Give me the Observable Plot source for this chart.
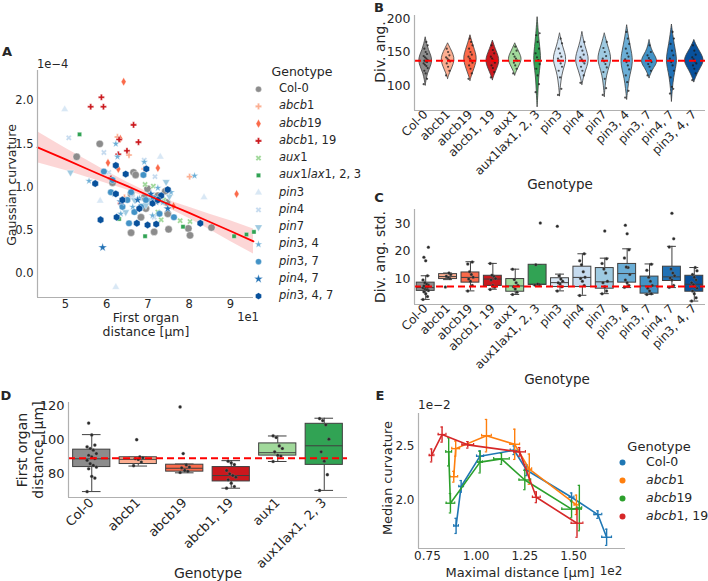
<!DOCTYPE html>
<html><head><meta charset="utf-8">
<script src="https://cdn.jsdelivr.net/npm/d3@7"></script>
<script src="https://cdn.jsdelivr.net/npm/@observablehq/plot@0.6"></script>
<style>
body{margin:0;background:#fff;font-family:"DejaVu Sans",sans-serif;color:#262626}
#fig{position:relative;width:708px;height:581px;overflow:hidden;background:#fff}
.p{position:absolute;line-height:0}
.p svg{display:block}
.t{position:absolute;white-space:nowrap;line-height:1.15;color:#262626}
</style></head><body><div id="fig"></div><script>
// ---------------- data ----------------
const genotypes = ["Col-0","abcb1","abcb19","abcb1, 19","aux1","aux1lax1, 2, 3","pin3","pin4","pin7","pin3, 4","pin3, 7","pin4, 7","pin3, 4, 7"];
const colors = ["#8c8c8c","#fcae91","#fb6a4a","#cb181d","#a1d99b","#31a354","#d9e8f5","#c6dbef","#9ecae1","#6baed6","#4292c6","#2171b5","#08519c"];

// Panel A: first organ distance (x 1e1 µm) vs Gaussian curvature (x 1e-4)
const aCol0 = [[5.83,1.50],[5.27,1.35],[6.14,1.05],[6.65,1.17],[6.59,0.92],[6.91,0.88],[7.14,0.85],[7.42,0.95],[7.46,0.82],[7.48,0.69],[7.50,0.51],[7.15,0.48],[6.59,0.47],[6.83,0.65],[6.95,0.75],[7.98,0.52],[8.02,0.44],[8.54,0.53],[7.24,0.90],[6.99,0.98],[6.70,1.14]];
const aAbcb1 = [[6.54,1.37],[8.01,1.12],[6.91,1.21],[6.26,1.58],[6.43,0.88]];
const aAbcb19 = [[6.41,2.22],[6.03,1.28],[6.28,1.21],[7.24,1.22],[9.15,0.92],[7.62,0.78],[6.33,1.56]];
const aAbcb1_19 = [[5.61,1.93],[5.87,2.04],[5.92,1.93],[6.65,1.72],[6.77,1.52],[6.30,1.55],[6.28,1.38],[6.49,1.42],[6.34,0.81],[6.10,1.10]];
const aAux1 = [[6.93,1.03],[7.13,1.01],[7.32,0.62],[7.78,0.61],[8.02,0.60],[7.24,0.71],[7.38,0.85]];
const aAux1lax = [[5.34,1.61],[6.30,0.63],[6.93,0.43],[7.85,0.54],[9.09,0.43],[9.39,0.45],[9.57,0.48]];
const aPin3 = [[4.98,1.90],[5.84,0.84],[8.36,0.88],[6.22,-0.16],[7.30,1.35]];
const aPin4 = [[5.08,1.57],[5.93,1.40],[6.91,1.31],[7.17,1.12],[6.63,0.88],[7.15,0.65],[6.05,1.17]];
const aPin7 = [[5.12,1.17],[7.44,1.06],[6.67,0.85],[6.95,0.79],[6.46,0.71],[7.52,0.89]];
const aPin3_4 = [[5.57,1.07],[6.22,1.50],[6.26,1.35],[6.91,1.29],[8.13,1.13],[7.36,0.82],[6.18,0.92],[7.03,0.85],[6.63,0.77],[7.56,0.94],[6.34,0.69],[7.11,0.67],[6.79,0.87],[7.24,0.99]];
const aPin3_7 = [[5.93,1.18],[6.89,1.14],[6.10,0.94],[6.59,0.94],[6.50,0.85],[6.67,0.71],[6.95,0.85],[7.14,0.87],[6.38,0.77],[6.54,0.58],[7.28,0.69],[7.63,0.65],[6.14,1.08],[6.83,0.77]];
const aPin4_7 = [[5.90,0.30],[7.19,0.83],[6.75,0.85],[6.34,0.83],[7.48,0.75],[7.07,0.92]];
const aPin3_4_7 = [[5.72,1.04],[6.22,1.25],[6.46,1.15],[6.96,1.21],[6.22,0.92],[6.38,0.85],[5.85,0.62],[6.24,0.65],[6.73,0.58],[6.99,0.56],[7.20,0.57],[6.79,0.75],[7.32,0.90],[7.11,0.81],[7.48,0.97],[8.27,0.58],[7.24,0.85]];
// regression fit with confidence band
const regX = [4.32,5.0,5.5,6.0,6.5,7.0,7.5,8.0,8.5,9.0,9.56];
const regFit = [1.46,1.32,1.215,1.11,1.01,0.905,0.80,0.70,0.595,0.49,0.37];
const regLo = [1.28,1.19,1.115,1.04,0.965,0.87,0.755,0.635,0.505,0.37,0.225];
const regHi = [1.64,1.45,1.315,1.18,1.055,0.94,0.845,0.765,0.685,0.61,0.515];

// Panel B: violin profiles [Div. ang., half-width]
const vCol0 = [[100,0],[108,0.04],[118,0.1],[127,0.22],[136,0.31],[145,0.25],[153,0.14],[162,0.06],[172,0]];
const vAbcb1 = [[110,0],[118,0.08],[127,0.2],[137,0.31],[146,0.25],[154,0.13],[163,0]];
const vAbcb19 = [[107,0],[115,0.07],[124,0.17],[134,0.27],[143,0.29],[153,0.2],[164,0.09],[175,0]];
const vAbcb1_19 = [[108,0],[116,0.08],[125,0.2],[135,0.31],[144,0.26],[154,0.13],[167,0]];
const vAux1 = [[115,0],[122,0.08],[130,0.2],[138,0.31],[146,0.24],[154,0.12],[163,0]];
const vAux1lax = [[68,0],[85,0.03],[100,0.05],[115,0.08],[128,0.13],[138,0.16],[150,0.14],[165,0.09],[180,0.05],[202,0]];
const vPin3 = [[84,0],[100,0.04],[115,0.1],[127,0.2],[138,0.3],[148,0.24],[160,0.12],[170,0.05],[178,0]];
const vPin4 = [[101,0],[112,0.07],[122,0.16],[133,0.28],[142,0.29],[152,0.2],[165,0.08],[180,0]];
const vPin7 = [[83,0],[100,0.04],[115,0.1],[128,0.22],[138,0.3],[148,0.26],[160,0.14],[170,0.06],[178,0]];
const vPin3_4 = [[79,0],[95,0.05],[110,0.11],[122,0.2],[135,0.27],[147,0.23],[160,0.15],[172,0.08],[190,0]];
const vPin3_7 = [[111,0],[118,0.08],[126,0.2],[134,0.37],[142,0.3],[150,0.15],[158,0.06],[168,0]];
const vPin4_7 = [[76,0],[95,0.04],[112,0.1],[125,0.18],[136,0.24],[148,0.2],[162,0.12],[175,0.06],[191,0]];
const vPin3_4_7 = [[105,0],[113,0.09],[122,0.22],[131,0.38],[138,0.44],[146,0.34],[155,0.18],[162,0.07],[168,0]];
// Panel B: individual divergence angles
const bCol0 = [102,110,118,122,126,129,131,133,135,136,137,138,140,142,144,147,150,155,160,165];
const bAbcb1 = [115,122,128,133,136,138,140,142,145,150,155];
const bAbcb19 = [110,118,125,130,134,137,140,143,146,150,155,160,165,170];
const bAbcb1_19 = [112,120,126,130,134,137,140,143,148,153,160];
const bAux1 = [118,125,130,134,137,140,143,147,152,158];
const bAux1lax = [90,102,115,125,132,138,142,148,155,165,175,178];
const bPin3 = [86,95,112,122,128,133,137,140,143,148,155,163,170];
const bPin4 = [104,115,122,128,133,136,139,142,146,152,158,165];
const bPin7 = [86,96,110,120,127,132,136,140,144,150,156,165];
const bPin3_4 = [82,92,105,115,124,130,135,139,143,148,155,162,170,180];
const bPin3_7 = [115,122,128,132,135,138,141,145,150,160];
const bPin4_7 = [88,95,98,112,122,130,135,140,145,152,162,170,180];
const bPin3_4_7 = [108,118,125,130,133,136,139,142,146,152,160];
const bRef = 137;

// Panel C: Div. ang. std. box statistics and points
const cLo  = [2.4,9.6,5.5,6.1,4.2,7.6,5.5,3.9,4.5,6.7,4.2,6.7,1.8];
const cQ1  = [5.5,9.8,8.5,7.3,5.2,7.7,6.9,6.9,6.3,8.5,4.5,9.1,5.2];
const cMed = [6.7,10.7,10.4,9.8,7.3,7.9,8.5,10.4,8.8,11.8,7.3,10.6,7.9];
const cQ3  = [8.5,11.6,12.2,11.0,9.8,15.0,10.1,14.3,13.8,15.3,10.7,14.3,11.0];
const cHi  = [11.0,12.0,16.1,15.5,13.4,15.0,11.6,19.0,17.4,20.8,15.3,21.7,14.0];
const cPts = [
  [2.4,3.5,4.5,5.2,5.6,6.0,6.3,6.6,6.8,7.0,7.3,7.6,8.0,8.5,9.5,11,16.5,17.7,21.4],
  [6.9,10.0,10.4,10.8,11.5,12.0],
  [5.5,7.5,9,9.8,10.5,11.5,12.5,15.3,16.0],
  [6.0,6.8,7.5,9.5,10,10.8,11.2,15.5],
  [4.2,5.0,6.2,7,7.5,8.5,9.6,13.4],
  [7.6,7.8,8.0,15.0,30.2],
  [5.5,7.0,8.0,8.5,9.0,9.8,11.0,29.0],
  [3.8,7.5,9,10,10.5,12.5,15,16.5,19],
  [4.5,5.5,7,8.5,9,12,13.5,15.5,17.2,27.3],
  [6.8,7.5,8.5,9.5,11.5,14,14.2,17.5,20.5,26.3,29.4],
  [4.2,4.5,5.5,6.5,7.5,9,10.5,13,15.2],
  [6.8,7.5,9.5,10.2,11,12,13.5,21.5,24.5,33.7],
  [1.8,3,4.5,5.5,6.5,7,7.8,8.5,9.5,10.5,11.5,12.8,14]
];
const cRef = 7.1;

// Panel D: first organ distance box statistics and points
const dGenotypes = genotypes.slice(0, 6);
const dLo  = [69.5,84.6,80.6,71.5,87.3,70.2];
const dQ1  = [84.0,85.8,81.3,75.5,90.8,85.3];
const dMed = [88.9,88.6,83.3,79.0,92.5,96.6];
const dQ3  = [94.3,89.8,85.4,84.0,98.0,109.6];
const dHi  = [103.2,89.8,85.8,87.8,102.4,112.9];
const dPts = [
  [69.5,77.5,78.5,83,84,85,86,88,89,90,91,92,94,95,96,97,103,110],
  [84.8,87,88.5,89,89.5,90,100.2],
  [80.8,81.5,82,83.5,84,85.3,92.0,119.6],
  [71.5,72.5,74.5,76.5,78,79,80,82,85.5,86.5,87.5],
  [87.3,90.5,91,93,95,96.5,101.5,102.5],
  [70.2,79.5,87.5,93,100.5,109,111.5,112.7]
];
const dRef = 89.2;

// Panel E: [maximal distance (1e2 µm), median curvature (1e-2), x err, y err]
const eGenotypes = ["Col-0","abcb1","abcb19","abcb1, 19"];
const eColors = ["#1f77b4","#ff7f0e","#2ca02c","#d62728"];
const eCol0 = [[0.897,1.765,0.012,0.07],[0.923,2.13,0.012,0.055],[1.02,2.41,0.018,0.05],[1.195,2.465,0.02,0.04],[1.26,2.28,0.012,0.05],[1.49,2.03,0.012,0.04],[1.625,1.87,0.02,0.035],[1.67,1.66,0.025,0.075]];
const eAbcb1 = [[0.885,2.22,0.02,0.05],[0.895,2.48,0.02,0.07],[1.053,2.60,0.025,0.15],[1.198,2.52,0.025,0.14],[1.273,2.29,0.012,0.14],[1.515,1.96,0.012,0.09]];
const eAbcb19 = [[0.859,2.45,0.015,0.13],[0.868,1.975,0.022,0.09],[1.02,2.355,0.012,0.1],[1.13,2.385,0.04,0.05],[1.25,2.19,0.03,0.09],[1.49,1.92,0.05,0.08],[1.53,1.93,0.012,0.21]];
const eAbcb1_19 = [[0.771,2.417,0.012,0.06],[0.825,2.61,0.02,0.07],[0.957,2.515,0.03,0.03],[1.223,2.45,0.03,0.04],[1.309,2.03,0.02,0.05],[1.518,1.79,0.03,0.13]];

// ---------------- helpers ----------------
const fig = document.getElementById("fig");
const ink = "#262626", spine = "#b0b0b0", edge = "#3f3f3f";
function place(node, left, top){ const w=document.createElement("div"); w.className="p"; w.style.left=left+"px"; w.style.top=top+"px"; w.appendChild(node); fig.appendChild(w); }
function T(html, x, y, o={}){
  const d=document.createElement("div"); d.className="t"; d.innerHTML=html;
  d.style.left=x+"px"; d.style.top=y+"px"; d.style.fontSize=(o.size||12)+"px";
  if(o.bold) d.style.fontWeight="bold";
  const tx = o.anchor==="start" ? "0" : o.anchor==="end" ? "-100%" : "-50%";
  d.style.transform=`translate(${tx},-50%)` + (o.rotate?` rotate(${o.rotate}deg)`:"");
  fig.appendChild(d);
}
const ital = s => s==="Col-0" ? s : s.replace(/([A-Za-z]+)/g,"<i>$1</i>");
const style = fs => ({fontFamily:'"DejaVu Sans", sans-serif', fontSize:fs+"px", color:ink, background:"none", overflow:"visible"});
function rotSym(base, deg){
  const a=deg*Math.PI/180, c=Math.cos(a), s=Math.sin(a);
  return {draw(ctx,size){ base.draw({moveTo:(x,y)=>ctx.moveTo(x*c-y*s,x*s+y*c), lineTo:(x,y)=>ctx.lineTo(x*c-y*s,x*s+y*c), closePath:()=>ctx.closePath()}, size); }};
}
const triDown = rotSym(d3.symbolTriangle, 180);
const xCross = rotSym(d3.symbolCross, 45);
const symbolsA = ["circle","cross","diamond","cross",xCross,"square","triangle",xCross,triDown,"star","circle","star","hexagon"];
const sizesA = [3.7,2.6,2.6,2.6,2.6,2.4,2.8,2.6,2.8,2.4,3.3,2.8,3.2];
const jit = k => (((k*5)%7) - 3) / 3;
const idx = genotypes.map((g,i)=>i);

// ---------------- Panel A ----------------
const aSets = [aCol0,aAbcb1,aAbcb19,aAbcb1_19,aAux1,aAux1lax,aPin3,aPin4,aPin7,aPin3_4,aPin3_7,aPin4_7,aPin3_4_7];
const regRows = regX.map((x,k)=>({x, fit:regFit[k], lo:regLo[k], hi:regHi[k]}));
const aX = [4.32, 9.56], aY = [-0.28, 2.35];
place(Plot.plot({
  width:258, height:300, marginLeft:37, marginRight:5, marginTop:30, marginBottom:43,
  style: style(11.5),
  x:{domain:aX}, y:{domain:aY},
  marks:[
    Plot.areaY(regRows,{x:"x", y1:"lo", y2:"hi", fill:"#f03030", fillOpacity:0.2}),
    ...genotypes.map((g,i)=>Plot.dot(aSets[i].map(([x,y])=>({x,y})),{x:"x", y:"y", symbol:symbolsA[i], r:sizesA[i], fill:colors[i], stroke:"white", strokeWidth:0.4})),
    Plot.lineY(regRows,{x:"x", y:"fit", stroke:"#ff0000", strokeWidth:1.8}),
    Plot.ruleX([aX[0]],{stroke:spine, strokeWidth:1.2}),
    Plot.ruleY([aY[0]],{stroke:spine, strokeWidth:1.2}),
    Plot.axisX({ticks:[5,6,7,8,9], tickFormat:"d", tickSize:0, tickPadding:2, label:null}),
    Plot.axisY({ticks:[0,0.5,1,1.5,2], tickFormat:".1f", tickSize:0, tickPadding:4, label:null})
  ]
}), 0, 40);
// legend A (one row per genotype, 17.25 px apart, first row on top)
const legA = genotypes.map((g,k)=>({g,k}));
place(Plot.plot({
  width:16, height:13*17.25, margin:0, style:style(11),
  x:{domain:[0,1], axis:null}, y:{domain:[12.5,-0.5], axis:null},
  marks: legA.map((d,i)=>Plot.dot([d],{x:()=>0.5, y:"k", symbol:symbolsA[i], r:Math.min(sizesA[i],3), fill:colors[i], stroke:"white", strokeWidth:0.3}))
}), 250, 89-17.25/2);
T("A",7,52,{size:13,bold:true});
T("1e−4",37,65,{size:11.5,anchor:"start"});
T("Gaussian curvature",12,185,{size:12.5,rotate:-90});
T("First organ",146,318,{size:12.5});
T("distance [µm]",146,332,{size:12.5});
T("1e1",248,318,{size:11.5});
T("Genotype",302,72,{size:12.5});
genotypes.forEach((g,k)=>T(ital(g),279,89+k*17.25,{size:11.5,anchor:"start"}));

// ---------------- Panel B ----------------
const vSets = [vCol0,vAbcb1,vAbcb19,vAbcb1_19,vAux1,vAux1lax,vPin3,vPin4,vPin7,vPin3_4,vPin3_7,vPin4_7,vPin3_4_7];
const bSets = [bCol0,bAbcb1,bAbcb19,bAbcb1_19,bAux1,bAux1lax,bPin3,bPin4,bPin7,bPin3_4,bPin3_7,bPin4_7,bPin3_4_7];
const bY = [62.7, 204.5];
const bPts = bSets.flatMap((vals,i)=>vals.map((v,k)=>({i,v,k})));
place(Plot.plot({
  width:348, height:185, marginLeft:54, marginRight:3, marginTop:15, marginBottom:75,
  style: style(12.5),
  x:{domain:[-0.5,12.5]}, y:{domain:bY},
  marks:[
    ...vSets.map((prof,i)=>Plot.areaX(prof.map(([y,w])=>({i,y,w})),{y:"y", x1:d=>d.i-d.w, x2:d=>d.i+d.w, fill:colors[i], stroke:edge, strokeWidth:0.8, curve:"basis"})),
    Plot.dot(bPts,{x:d=>d.i+jit(d.k)*0.09, y:"v", r:1.1, fill:"#1a1a1a", fillOpacity:0.75}),
    Plot.ruleY([bRef],{stroke:"#ff0000", strokeWidth:2, strokeDasharray:"7,4"}),
    Plot.ruleX([-0.5],{stroke:spine, strokeWidth:1.2}),
    Plot.ruleY([bY[0]],{stroke:spine, strokeWidth:1.2}),
    Plot.axisY({ticks:[100,150,200], tickSize:0, tickPadding:4, label:null}),
    Plot.axisX({ticks:idx, tickFormat:i=>genotypes[i], tickRotate:-45, tickSize:0, tickPadding:2, label:null, fontSize:12})
  ]
}), 360, 0);
T("B",379,8,{size:13,bold:true});
T("Div. ang.",380,52,{size:14,rotate:-90});
T("Genotype",560,185,{size:13.5});

// ---------------- Panel C ----------------
const cRows = idx.map(i=>({i, lo:cLo[i], q1:cQ1[i], med:cMed[i], q3:cQ3[i], hi:cHi[i]}));
const cPtRows = cPts.flatMap((vals,i)=>vals.map((v,k)=>({i,v,k})));
const cY = [0.55, 35.1];
function boxMarks(rows, fills, half){
  return [
    Plot.ruleX(rows,{x:"i", y1:"lo", y2:"q1", stroke:edge, strokeWidth:1}),
    Plot.ruleX(rows,{x:"i", y1:"q3", y2:"hi", stroke:edge, strokeWidth:1}),
    Plot.ruleY(rows,{y:"lo", x1:d=>d.i-half/2, x2:d=>d.i+half/2, stroke:edge, strokeWidth:1}),
    Plot.ruleY(rows,{y:"hi", x1:d=>d.i-half/2, x2:d=>d.i+half/2, stroke:edge, strokeWidth:1}),
    ...rows.map(r=>Plot.rect([r],{x1:d=>d.i-half, x2:d=>d.i+half, y1:"q1", y2:"q3", fill:fills[r.i], stroke:edge, strokeWidth:1})),
    Plot.ruleY(rows,{y:"med", x1:d=>d.i-half, x2:d=>d.i+half, stroke:edge, strokeWidth:1})
  ];
}
place(Plot.plot({
  width:348, height:180, marginLeft:54, marginRight:3, marginTop:19, marginBottom:66,
  style: style(12.5),
  x:{domain:[-0.5,12.5]}, y:{domain:cY},
  marks:[
    ...boxMarks(cRows, colors, 0.4),
    Plot.dot(cPtRows,{x:d=>d.i+jit(d.k)*0.12, y:"v", r:1.5, fill:"#2a2a2a", stroke:"#888", strokeWidth:0.3}),
    Plot.ruleY([cRef],{stroke:"#ff0000", strokeWidth:2, strokeDasharray:"7,4"}),
    Plot.ruleX([-0.5],{stroke:spine, strokeWidth:1.2}),
    Plot.ruleY([cY[0]],{stroke:spine, strokeWidth:1.2}),
    Plot.axisY({ticks:[10,20,30], tickSize:0, tickPadding:4, label:null}),
    Plot.axisX({ticks:idx, tickFormat:i=>genotypes[i], tickRotate:-45, tickSize:0, tickPadding:2, label:null, fontSize:12})
  ]
}), 360, 190);
T("C",379,198,{size:13,bold:true});
T("Div. ang. std.",380,257,{size:14,rotate:-90});
T("Genotype",557,380,{size:13.5});

// ---------------- Panel D ----------------
const dIdx = dGenotypes.map((g,i)=>i);
const dRows = dIdx.map(i=>({i, lo:dLo[i], q1:dQ1[i], med:dMed[i], q3:dQ3[i], hi:dHi[i]}));
const dPtRows = dPts.flatMap((vals,i)=>vals.map((v,k)=>({i,v,k})));
const dY = [66, 122.2];
place(Plot.plot({
  width:360, height:186, marginLeft:68, marginRight:13, marginTop:7, marginBottom:84,
  style: style(13),
  x:{domain:[-0.5,5.5]}, y:{domain:dY},
  marks:[
    ...boxMarks(dRows, colors, 0.4),
    Plot.dot(dPtRows,{x:d=>d.i+jit(d.k)*0.1, y:"v", r:1.6, fill:"#2a2a2a", stroke:"#888", strokeWidth:0.3}),
    Plot.ruleY([dRef],{stroke:"#ff0000", strokeWidth:2, strokeDasharray:"7,4"}),
    Plot.ruleX([-0.5],{stroke:spine, strokeWidth:1.2}),
    Plot.ruleY([dY[0]],{stroke:spine, strokeWidth:1.2}),
    Plot.axisY({ticks:[80,100,120], tickSize:0, tickPadding:4, label:null}),
    Plot.axisX({ticks:dIdx, tickFormat:i=>dGenotypes[i], tickRotate:-45, tickSize:0, tickPadding:3, label:null, fontSize:13})
  ]
}), 0, 395);
T("D",6,396,{size:13,bold:true});
T("First organ",22,450,{size:14,rotate:-90});
T("distance [µm]",38,450,{size:14,rotate:-90});
T("Genotype",208,573,{size:14});

// ---------------- Panel E ----------------
const eSets = [eCol0,eAbcb1,eAbcb19,eAbcb1_19];
const eRows = eSets.flatMap((set,gi)=>set.map(([x,y,xe,ye])=>({gi,x,y,xe,ye}))).sort((a,b)=>a.x-b.x);
const eX = [0.704, 1.767], eY = [1.556, 2.805];
const capX = 0.006, capY = 0.012;
place(Plot.plot({
  width:250, height:170, marginLeft:38, marginRight:5, marginTop:13, marginBottom:22,
  style: style(12),
  x:{domain:eX}, y:{domain:eY},
  marks:[
    ...eGenotypes.map((g,gi)=>{
      const rows = eRows.filter(d=>d.gi===gi);
      const c = eColors[gi];
      return [
        Plot.line(rows,{x:"x", y:"y", stroke:c, strokeWidth:1.6}),
        Plot.ruleX(rows,{x:"x", y1:d=>d.y-d.ye, y2:d=>d.y+d.ye, stroke:c, strokeWidth:1.4}),
        Plot.ruleY(rows,{y:"y", x1:d=>d.x-d.xe, x2:d=>d.x+d.xe, stroke:c, strokeWidth:1.4}),
        Plot.ruleY(rows,{y:d=>d.y-d.ye, x1:d=>d.x-capX, x2:d=>d.x+capX, stroke:c, strokeWidth:1.2}),
        Plot.ruleY(rows,{y:d=>d.y+d.ye, x1:d=>d.x-capX, x2:d=>d.x+capX, stroke:c, strokeWidth:1.2}),
        Plot.ruleX(rows,{x:d=>d.x-d.xe, y1:d=>d.y-capY, y2:d=>d.y+capY, stroke:c, strokeWidth:1.2}),
        Plot.ruleX(rows,{x:d=>d.x+d.xe, y1:d=>d.y-capY, y2:d=>d.y+capY, stroke:c, strokeWidth:1.2})
      ];
    }).flat(),
    Plot.ruleX([eX[0]],{stroke:spine, strokeWidth:1.2}),
    Plot.ruleY([eY[0]],{stroke:spine, strokeWidth:1.2}),
    Plot.axisY({ticks:[2.0,2.5], tickFormat:".1f", tickSize:0, tickPadding:4, label:null}),
    Plot.axisX({ticks:[0.75,1.0,1.25,1.5], tickFormat:".2f", tickSize:0, tickPadding:3, label:null})
  ]
}), 380, 400);
// legend E (one row per genotype, 18 px apart, first row on top)
const legE = eGenotypes.map((g,k)=>({g,k}));
place(Plot.plot({
  width:16, height:4*18, margin:0, style:style(11),
  x:{domain:[0,1], axis:null}, y:{domain:[3.5,-0.5], axis:null},
  marks: legE.map((d,i)=>Plot.dot([d],{x:()=>0.5, y:"k", r:3, fill:eColors[i]}))
}), 614, 462-9);
T("E",380,396,{size:13,bold:true});
T("1e−2",418,406,{size:12,anchor:"start"});
T("Median curvature",388,478,{size:13,rotate:-90});
T("Maximal distance [µm]",520,573,{size:13});
T("1e2",611,572,{size:12});
T("Genotype",659,447,{size:13});
eGenotypes.forEach((g,k)=>T(ital(g),646,462+k*18,{size:12.5,anchor:"start"}));
</script></body></html>
